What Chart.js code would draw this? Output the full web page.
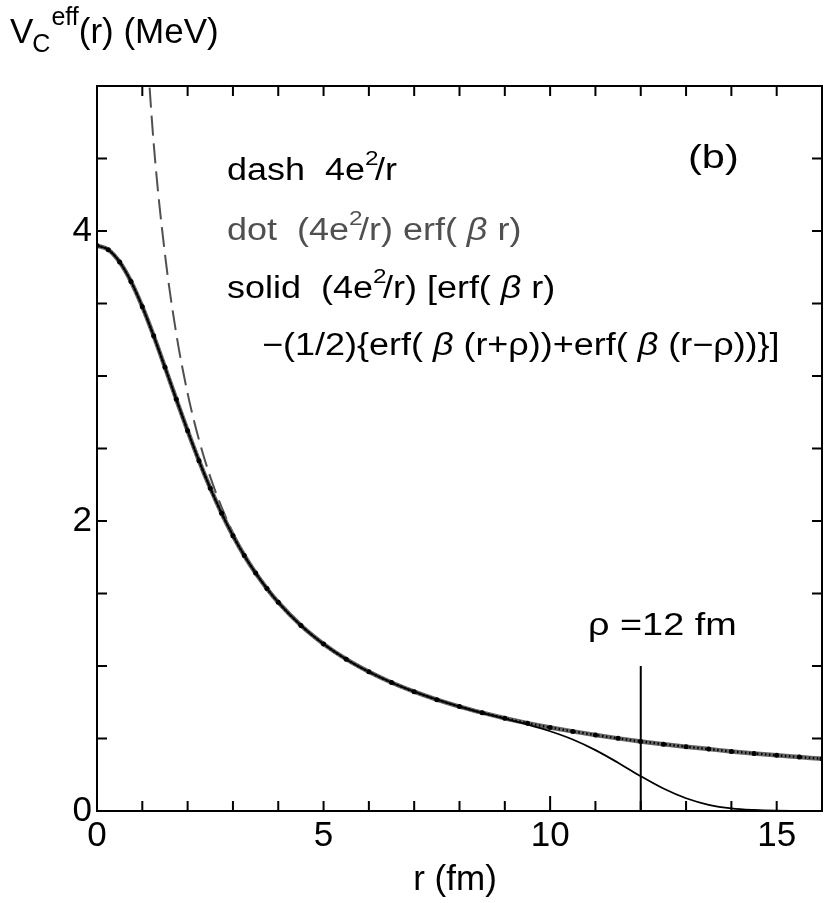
<!DOCTYPE html>
<html>
<head>
<meta charset="utf-8">
<script src="https://cdn.jsdelivr.net/npm/chart.js@4.4.0/dist/chart.umd.min.js"></script>
<style>
html,body{margin:0;padding:0;background:#fff;}
#wrap{width:830px;height:903px;}
</style>
</head>
<body>
<div id="wrap"><canvas id="c" width="830" height="903"></canvas></div>
<script>
// r (fm)
const rValues = [0,0.25,0.5,0.75,1,1.25,1.5,1.75,2,2.25,2.5,2.75,3,3.25,3.5,3.75,4,
  4.5,5,5.5,6,6.5,7,7.5,8,8.5,9,9.5,10,10.5,11,11.5,12,12.5,13,13.5,14,14.5,15,15.5,16];
// dashed curve 4e^2/r (MeV)
const dashValues = [null,null,null,null,5.760,4.608,3.840,3.291,2.880,2.560,2.304,2.095,1.920,1.772,1.646,1.536,1.440,
  1.280,1.152,1.047,0.960,0.886,0.823,0.768,0.720,0.678,0.640,0.606,0.576,0.549,0.524,0.501,0.480,0.461,0.443,0.427,0.411,0.397,0.384,0.372,0.360];
// dotted curve (4e^2/r) erf(beta r)
const dotValues = [3.900,3.871,3.786,3.652,3.478,3.277,3.060,2.839,2.622,2.416,2.226,2.054,1.899,1.762,1.641,1.534,1.439,
  1.280,1.152,1.047,0.960,0.886,0.823,0.768,0.720,0.678,0.640,0.606,0.576,0.549,0.524,0.501,0.480,0.461,0.443,0.427,0.411,0.397,0.384,0.372,0.360];
// solid curve
const solidValues = [3.900,3.871,3.786,3.652,3.478,3.277,3.060,2.839,2.622,2.416,2.226,2.054,1.899,1.762,1.641,1.534,1.439,
  1.280,1.152,1.047,0.960,0.886,0.823,0.768,0.720,0.677,0.637,0.596,0.550,0.493,0.420,0.333,0.240,0.155,0.088,0.043,0.018,0.007,0.002,0.001,0.000];
// rho marker line
const rhoR = [12,12];
const rhoV = [0,1];
// ticks
const xTickValues = [0,5,10,15];
const yTickValues = [0,2,4];
const xMinorTicks = [1,2,3,4,5,6,7,8,9,10,11,12,13,14,15];
const yMinorTicks = [0.5,1,1.5,2,2.5,3,3.5,4,4.5];

const pts = (xs, ys) => xs.map((x, i) => ({x: x, y: ys[i]}));
const FONT = "'Liberation Sans', Arial, Helvetica, sans-serif";

const framePlugin = {
  id: 'frame',
  afterDatasetsDraw(chart) {
    const ctx = chart.ctx, a = chart.chartArea;
    const xs = chart.scales.x, ys = chart.scales.y;
    ctx.save();
    ctx.strokeStyle = '#000';
    ctx.lineWidth = 2;
    ctx.strokeRect(a.left, a.top, a.right - a.left, a.bottom - a.top);
    ctx.beginPath();
    xMinorTicks.forEach(v => {
      const px = xs.getPixelForValue(v);
      const len = (v === 10) ? 15 : 10;
      ctx.moveTo(px, a.bottom); ctx.lineTo(px, a.bottom - len);
      ctx.moveTo(px, a.top); ctx.lineTo(px, a.top + 10);
    });
    yMinorTicks.forEach(v => {
      const py = ys.getPixelForValue(v);
      ctx.moveTo(a.left, py); ctx.lineTo(a.left + 10, py);
      ctx.moveTo(a.right, py); ctx.lineTo(a.right - 10, py);
    });
    ctx.stroke();
    ctx.restore();
  }
};

function drawRich(ctx, x, y, parts, color, sx) {
  ctx.save();
  ctx.translate(x, y);
  ctx.scale(sx || 1, 1);
  ctx.fillStyle = color;
  ctx.textBaseline = 'alphabetic';
  ctx.textAlign = 'left';
  let cx = 0;
  parts.forEach(p => {
    ctx.font = (p.italic ? 'italic ' : '') + p.size + 'px ' + FONT;
    cx += (p.kern || 0);
    ctx.fillText(p.t, cx, p.dy || 0);
    cx += ctx.measureText(p.t).width;
  });
  ctx.restore();
}

const textPlugin = {
  id: 'texts',
  afterDraw(chart) {
    const ctx = chart.ctx;
    // y-axis title
    drawRich(ctx, 10, 43, [
      {t:'V', size:35},
      {t:'C', size:25, dy:9, kern:-1},
      {t:'eff', size:25, dy:-18, kern:1},
      {t:'(r) (MeV)', size:35}
    ], '#000', 1);
    const S = 31, SX = 1.16;
    drawRich(ctx, 227, 180, [
      {t:'dash  4e', size:S},
      {t:'2', size:21, dy:-15},
      {t:'/r', size:S, kern:-3}
    ], '#000', SX);
    drawRich(ctx, 227, 240, [
      {t:'dot  (4e', size:S},
      {t:'2', size:21, dy:-15},
      {t:'/r) erf( ', size:S, kern:-3},
      {t:'\u03B2', size:S, italic:true},
      {t:' r)', size:S}
    ], '#505050', SX);
    drawRich(ctx, 227, 298, [
      {t:'solid  (4e', size:S},
      {t:'2', size:21, dy:-15},
      {t:'/r) [erf( ', size:S, kern:-3},
      {t:'\u03B2', size:S, italic:true},
      {t:' r)', size:S}
    ], '#000', SX);
    drawRich(ctx, 262, 355, [
      {t:'\u2212(1/2){erf( ', size:S},
      {t:'\u03B2', size:S, italic:true},
      {t:' (r+\u03C1))+erf( ', size:S},
      {t:'\u03B2', size:S, italic:true},
      {t:' (r\u2212\u03C1))}]', size:S}
    ], '#000', SX);
    drawRich(ctx, 688, 168, [{t:'(b)', size:34}], '#000', 1.22);
    drawRich(ctx, 588, 635, [{t:'\u03C1 =12 fm', size:S}], '#000', 1.22);
    // x-axis title
    ctx.save();
    ctx.fillStyle = '#000';
    ctx.font = '35px ' + FONT;
    ctx.textAlign = 'center';
    ctx.textBaseline = 'alphabetic';
    ctx.fillText('r (fm)', 455, 890);
    ctx.restore();
  }
};

new Chart(document.getElementById('c'), {
  type: 'line',
  data: {
    datasets: [
      {label:'solid', data: pts(rValues, solidValues), borderColor:'#000', borderWidth:1.8,
        pointRadius:0, cubicInterpolationMode:'monotone', order:0, clip:0},
      {label:'rho', data: pts(rhoR, rhoV), borderColor:'#000', borderWidth:2,
        pointRadius:0, order:1, clip:0},
      {label:'dot', data: pts(rValues, dotValues), borderColor:'#000', borderWidth:2.4,
        borderDash:[1.5,2.5], pointRadius:2.5, pointBackgroundColor:'#000', pointBorderWidth:0,
        cubicInterpolationMode:'monotone', order:2, clip:0},
      {label:'dotband', data: pts(rValues, dotValues), borderColor:'#666', borderWidth:4.5,
        pointRadius:0, cubicInterpolationMode:'monotone', order:3, clip:0},
      {label:'dash', data: pts(rValues, dashValues), borderColor:'#505050', borderWidth:2,
        borderDash:[20,8], pointRadius:0, cubicInterpolationMode:'monotone', order:4, clip:0}
    ]
  },
  options: {
    responsive:false,
    animation:false,
    devicePixelRatio:1,
    layout:{padding:{top:86, right:8, left:0, bottom:0}},
    plugins:{legend:{display:false}, tooltip:{enabled:false}},
    scales:{
      x:{type:'linear', min:0, max:16,
        afterBuildTicks: s => { s.ticks = xTickValues.map(v => ({value:v})); },
        afterFit: s => { s.height = 92; },
        ticks:{font:{family:FONT, size:35}, color:'#000', padding:4, maxRotation:0, autoSkip:false},
        grid:{display:false, drawTicks:false}, border:{display:false}},
      y:{type:'linear', min:0, max:5,
        afterBuildTicks: s => { s.ticks = yTickValues.map(v => ({value:v})); },
        afterFit: s => { s.width = 97; },
        ticks:{font:{family:FONT, size:35}, color:'#000', padding:5, autoSkip:false},
        grid:{display:false, drawTicks:false}, border:{display:false}}
    }
  },
  plugins:[framePlugin, textPlugin]
});
</script>
</body>
</html>
